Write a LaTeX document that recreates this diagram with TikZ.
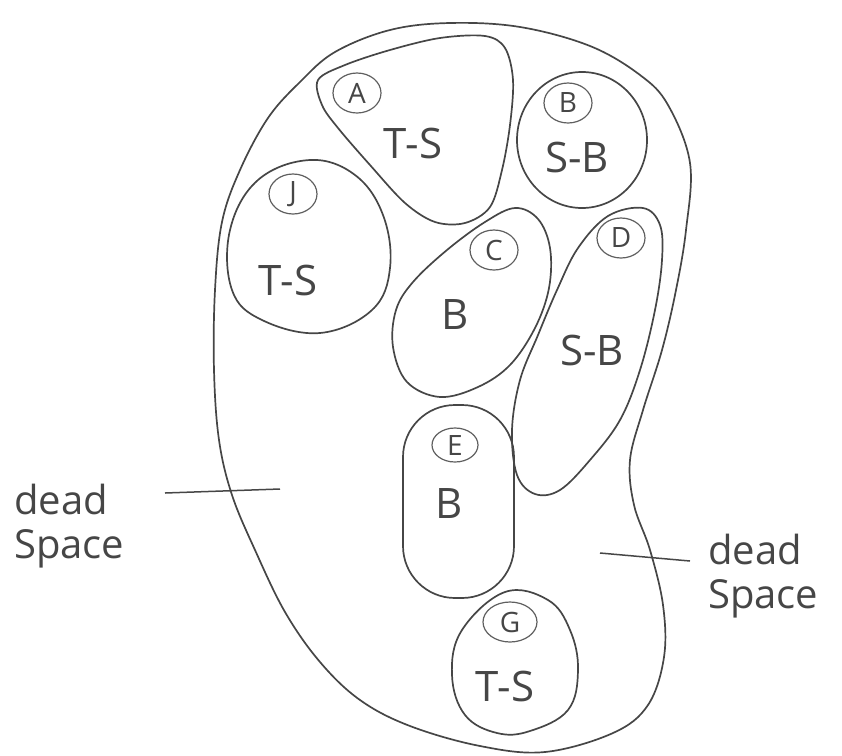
\documentclass[tikz,border=0pt]{standalone}
\usepackage{fontspec}
\setmainfont{Open Sans}
\usetikzlibrary{shapes.geometric}
\definecolor{pencil}{RGB}{70,70,70}
\definecolor{lightpencil}{RGB}{95,95,95}
\tikzset{
  blob/.style={draw=pencil, line width=1.7pt},
  tag/.style={draw=lightpencil, line width=1.2pt, ellipse, inner sep=0pt, minimum width=48pt, minimum height=40pt, text=pencil, font=\fontsize{28}{30}\selectfont},
  kind/.style={text=pencil, font=\fontsize{42}{46}\selectfont},
  note/.style={text=pencil, align=left, inner sep=0pt, anchor=north west, font=\fontsize{40}{44}\selectfont},
  leader/.style={draw=pencil, line width=1.5pt}
}
\begin{document}
\begin{tikzpicture}[x=1pt,y=-1pt]
\useasboundingbox (0,0) rectangle (842,755);
% outer bean
\draw[blob] plot[smooth cycle, tension=0.6] coordinates {
 (450,23) (520,27) (590,46) (640,75) (668,105) (690,163) (686,230) (676,290)
 (662,350) (643,410) (630,460) (634,505) (650,550) (663,605) (664,657) (648,705)
 (613,733) (545,752) (480,746) (410,726) (360,700) (320,662) (285,612) (255,550)
 (232,495) (219,440) (214,370) (215,290) (222,222) (240,170) (268,118) (300,82) (335,52) (390,30)};
% A
\draw[blob] plot[smooth cycle, tension=0.55] coordinates {
 (318,80) (345,65) (390,50) (440,38) (485,36) (505,48) (513,80) (510,125)
 (502,170) (490,207) (465,223) (435,222) (405,203) (370,165) (338,128) (322,105)};
\node[tag] (tA) at (357,93) {A};
\node[kind] (kA) at (413,143) {T-S};
% B
\draw[blob] (582,140) ellipse [x radius=65pt, y radius=68pt];
\node[tag] (tB) at (568,103) {B};
\node[kind] (kB) at (577,157) {S-B};
% J
\draw[blob] plot[smooth cycle, tension=0.65] coordinates {
 (310,160) (355,175) (383,215) (390,268) (372,310) (320,333) (262,320) (232,290) (230,230) (258,180)};
\node[tag] (tJ) at (293,194) {J};
\node[kind] (kJ) at (288,280) {T-S};
% C
\draw[blob] plot[smooth cycle, tension=0.6] coordinates {
 (515,208) (538,219) (550,248) (549,288) (535,328) (510,365) (478,387) (440,397)
 (407,382) (393,347) (396,310) (413,282) (447,250) (485,222)};
\node[tag] (tC) at (494,250) {C};
\node[kind] (kC) at (455,315) {B};
% D
\draw[blob] plot[smooth cycle, tension=0.6] coordinates {
 (643,208) (660,225) (662,260) (655,310) (640,370) (620,420) (590,460) (560,490)
 (535,494) (517,475) (512,430) (520,380) (538,335) (557,290) (578,248) (608,216)};
\node[tag] (tD) at (621,238) {D};
\node[kind] (kD) at (592,350) {S-B};
% E
\draw[blob, rounded corners=52pt] (403,405) rectangle (514,598);
\node[tag, minimum width=46pt, minimum height=34pt] (tE) at (455,445) {E};
\node[kind] (kE) at (449,503) {B};
% G
\draw[blob] plot[smooth cycle, tension=0.65] coordinates {
 (505,592) (548,600) (570,630) (578,670) (568,710) (530,731) (497,733) (465,715) (452,675) (462,630)};
\node[tag, minimum width=54pt] (tG) at (510,622) {G};
\node[kind] (kG) at (505,686) {T-S};
% dead space labels
\node[note] (n1) at (14,484) {dead\\Space};
\coordinate (e1a) at (165,493);
\coordinate (e1b) at (280,489);
\draw[leader] (e1a) -- (e1b);
\node[note] (n2) at (708,534) {dead\\Space};
\coordinate (e2a) at (600,553);
\coordinate (e2b) at (690,561);
\draw[leader] (e2a) -- (e2b);
\end{tikzpicture}
\end{document}
